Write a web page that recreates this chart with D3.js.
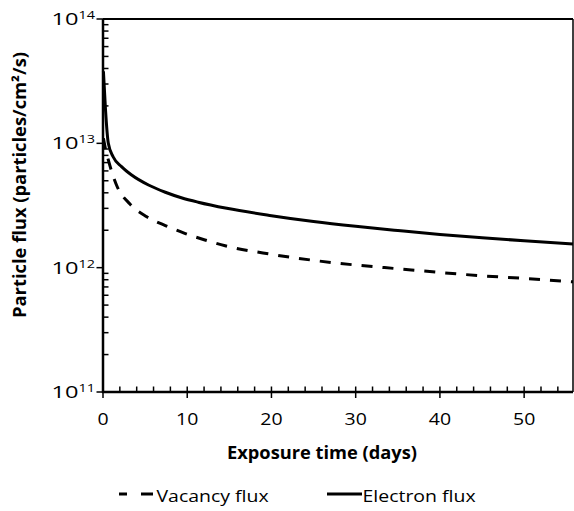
<!DOCTYPE html>
<html><head><meta charset="utf-8">
<script src="https://cdn.jsdelivr.net/npm/d3@7"></script>
<style>
html,body{margin:0;padding:0;background:#fff;}
svg{display:block;}
text{font-family:"Open Sans",sans-serif;fill:#000;}
</style></head>
<body>
<script>
// ---- data ----
const electronDays = [0.05, 0.3, 0.63, 1.2, 2.2, 3.4, 5.4, 7.4, 9.3, 11.3, 14.7, 20, 25, 30, 35, 40, 45, 50, 55.8];
const electronFlux = [3.8e13, 1.85e13, 1.0e13, 7.8e12, 6.5e12, 5.56e12, 4.62e12, 4.04e12, 3.65e12, 3.36e12, 3.0e12, 2.62e12, 2.35e12, 2.15e12, 1.99e12, 1.85e12, 1.74e12, 1.645e12, 1.55e12];
const vacancyDays = [0.05, 0.3, 0.63, 1.6, 3.2, 5.2, 7.4, 9.7, 12.1, 14.5, 20, 25, 30, 35, 40, 45, 50, 55.8];
const vacancyFlux = [1.1e13, 9.0e12, 7.35e12, 4.62e12, 3.25e12, 2.57e12, 2.18e12, 1.89e12, 1.67e12, 1.5e12, 1.28e12, 1.145e12, 1.05e12, 9.8e11, 9.15e11, 8.6e11, 8.2e11, 7.7e11];
const xMajorTicks = [0, 10, 20, 30, 40, 50];
const yMajorExponents = [11, 12, 13, 14];
const seriesNames = ["Vacancy flux", "Electron flux"];
const xTitle = "Exposure time (days)";
const yTitle = "Particle flux (particles/cm\u00B2/s)";

const W = 574, H = 511;
const L = 103, R = 573, T = 19, B = 392;
const SX = 1.18; // horizontal stretch of text seen in the reference

const svg = d3.select("body").append("svg").attr("width", W).attr("height", H);

const x = d3.scaleLinear().domain([0, 55.8]).range([L, R]);
const y = d3.scaleLog().domain([1e11, 1e14]).range([B, T]);

// frame (top and right)
svg.append("line").attr("x1", L).attr("x2", R).attr("y1", T).attr("y2", T).attr("stroke", "#000").attr("stroke-width", 2);
svg.append("line").attr("x1", R).attr("x2", R).attr("y1", T).attr("y2", B).attr("stroke", "#000").attr("stroke-width", 1.5);

// x minor ticks (inside)
const xMinor = d3.range(0, 56, 2).filter(v => v % 10 !== 0);
svg.append("g").selectAll("line").data(xMinor).join("line")
  .attr("x1", d => x(d)).attr("x2", d => x(d)).attr("y1", B).attr("y2", B - 5.5)
  .attr("stroke", "#000").attr("stroke-width", 1.5);
// x major ticks (cross)
svg.append("g").selectAll("line").data(xMajorTicks).join("line")
  .attr("x1", d => x(d)).attr("x2", d => x(d)).attr("y1", B - 5.5).attr("y2", B + 6)
  .attr("stroke", "#000").attr("stroke-width", 1.5);
svg.append("g").selectAll("text").data(xMajorTicks).join("text")
  .attr("transform", d => `translate(${x(d)},${B + 33}) scale(${SX},1)`).attr("text-anchor", "middle")
  .style("font-size", "16.5px").text(d => d);

// y minor ticks (inside)
const yMinor = [];
[11, 12, 13].forEach(e => { for (let k = 2; k <= 9; k++) yMinor.push(k * Math.pow(10, e)); });
svg.append("g").selectAll("line").data(yMinor).join("line")
  .attr("x1", L).attr("x2", L + 5.5).attr("y1", d => y(d)).attr("y2", d => y(d))
  .attr("stroke", "#000").attr("stroke-width", 1.5);
svg.append("g").selectAll("line").data(yMajorExponents).join("line")
  .attr("x1", L - 6.5).attr("x2", L).attr("y1", d => y(Math.pow(10, d))).attr("y2", d => y(Math.pow(10, d)))
  .attr("stroke", "#000").attr("stroke-width", 1.5);
const yl = svg.append("g").selectAll("g").data(yMajorExponents).join("g");
yl.append("text").attr("x", 51.5).attr("y", d => y(Math.pow(10, d)) + 6)
  .attr("textLength", 27).attr("lengthAdjust", "spacingAndGlyphs")
  .style("font-size", "16.5px").text("10");
yl.append("text").attr("x", 78.5).attr("y", d => y(Math.pow(10, d)))
  .attr("textLength", 16.5).attr("lengthAdjust", "spacingAndGlyphs")
  .style("font-size", "11.5px").text(d => d);

// axes lines
svg.append("line").attr("x1", L).attr("x2", L).attr("y1", T).attr("y2", B + 1).attr("stroke", "#000").attr("stroke-width", 2.5);
svg.append("line").attr("x1", L - 1).attr("x2", R).attr("y1", B).attr("y2", B).attr("stroke", "#000").attr("stroke-width", 2.5);

// curves
const line = d3.line().x(d => x(d[0])).y(d => y(d[1])).curve(d3.curveMonotoneX);
const eData = electronDays.map((d, i) => [d, electronFlux[i]]);
const vData = vacancyDays.map((d, i) => [d, vacancyFlux[i]]);
svg.append("path").datum(vData).attr("d", line).attr("fill", "none")
  .attr("stroke", "#000").attr("stroke-width", 3).attr("stroke-dasharray", "11,10");
svg.append("path").datum(eData).attr("d", line).attr("fill", "none")
  .attr("stroke", "#000").attr("stroke-width", 3);

// axis titles
svg.append("text").attr("x", 322).attr("y", 459).attr("text-anchor", "middle")
  .attr("textLength", 190).attr("lengthAdjust", "spacingAndGlyphs")
  .style("font-size", "17.5px").style("font-weight", "bold").text(xTitle);
svg.append("text").attr("transform", "translate(26,185) rotate(-90)").attr("text-anchor", "middle")
  .attr("textLength", 266).attr("lengthAdjust", "spacingAndGlyphs")
  .style("font-size", "17.5px").style("font-weight", "bold").text(yTitle);

// legend
svg.append("line").attr("x1", 119).attr("x2", 154).attr("y1", 494).attr("y2", 494)
  .attr("stroke", "#000").attr("stroke-width", 3).attr("stroke-dasharray", "8,14,12");
svg.append("text").attr("transform", `translate(156.5,501.5) scale(${SX},1)`).style("font-size", "16.5px").text(seriesNames[0]);
svg.append("line").attr("x1", 327).attr("x2", 362).attr("y1", 494).attr("y2", 494)
  .attr("stroke", "#000").attr("stroke-width", 3);
svg.append("text").attr("transform", `translate(362.5,501.5) scale(${SX},1)`).style("font-size", "16.5px").text(seriesNames[1]);
</script>
</body></html>
